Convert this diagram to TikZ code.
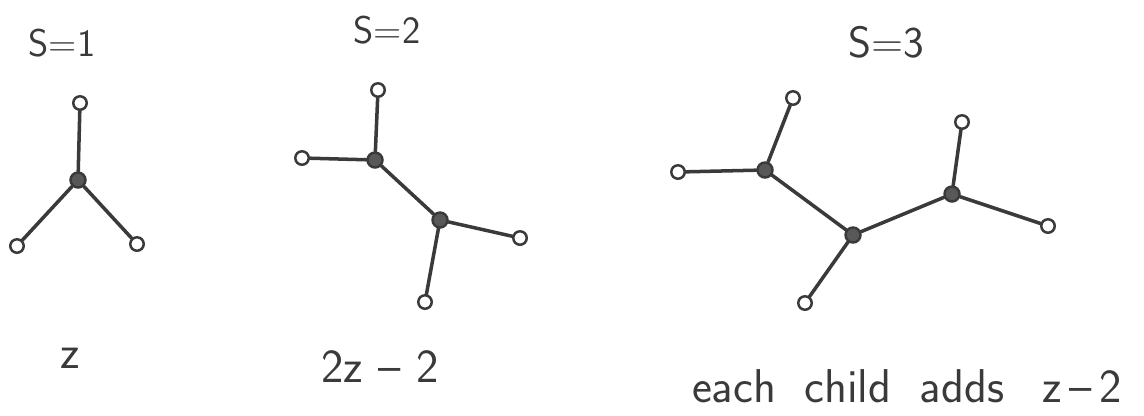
\documentclass[tikz,border=0pt]{standalone}
\usepackage{xcolor}
\usepackage{tikz}
\usetikzlibrary{positioning}

\definecolor{ink}{HTML}{3A3A3A}

\begin{document}
\begin{tikzpicture}[
            x=0.02cm, y=-0.02cm,
            leaf/.style ={circle, draw=ink, line width=1.4pt, fill=white,
                          minimum size=0.27cm, inner sep=0pt},
            inner/.style={circle, draw=ink, line width=1.4pt, fill=ink!85,
                          minimum size=0.3cm, inner sep=0pt},
            edge/.style ={line width=2pt, ink, line cap=round},
            lbl/.style  ={text=ink, font=\sffamily\fontsize{22}{26}\selectfont},
            sum/.style  ={text=ink, font=\sffamily\fontsize{27}{32}\selectfont}
        ]
            \useasboundingbox (0,0) rectangle (1144,416);

            % --- S = 1 ---
            \node[lbl]   (s1)   at (62,43)   {S=1};
            \node[inner] (a)    at (78,180)  {};
            \node[leaf]  (a1)   at (80,103)  {};
            \node[leaf]  (a2)   at (17,246)  {};
            \node[leaf]  (a3)   at (137,244) {};
            \node[sum]   (c1)   at (70,358)  {z};

            \draw[edge] (a) -- (a1);
            \draw[edge] (a) -- (a2);
            \draw[edge] (a) -- (a3);

            % --- S = 2 ---
            \node[lbl]   (s2)   at (387,30)  {S=2};
            \node[inner] (b)    at (375,160) {};
            \node[inner] (bb)   at (440,220) {};
            \node[leaf]  (b1)   at (378,90)  {};
            \node[leaf]  (b2)   at (302,158) {};
            \node[leaf]  (b3)   at (520,238) {};
            \node[leaf]  (b4)   at (425,302) {};
            \node[sum]   (c2)   at (380,367) {2z\,\,--\,\,2};

            \draw[edge] (b)  -- (b1);
            \draw[edge] (b)  -- (b2);
            \draw[edge] (b)  -- (bb);
            \draw[edge] (bb) -- (b3);
            \draw[edge] (bb) -- (b4);

            % --- S = 3 ---
            \node[lbl, font=\sffamily\fontsize{25}{30}\selectfont]
                         (s3)   at (886,42)  {S=3};
            \node[inner] (c)    at (765,170) {};
            \node[inner] (cc)   at (853,235) {};
            \node[inner] (ccc)  at (952,194) {};
            \node[leaf]  (c1a)  at (793,98)  {};
            \node[leaf]  (c1b)  at (678,172) {};
            \node[leaf]  (c2a)  at (805,303) {};
            \node[leaf]  (c3a)  at (962,122) {};
            \node[leaf]  (c3b)  at (1048,226) {};
            \node[sum]   (c3)   at (907,386)
                {each\hspace{0.6em}child\hspace{0.6em}adds\hspace{0.8em}z\,--\,2};

            \draw[edge] (c)   -- (c1a);
            \draw[edge] (c)   -- (c1b);
            \draw[edge] (c)   -- (cc);
            \draw[edge] (cc)  -- (c2a);
            \draw[edge] (cc)  -- (ccc);
            \draw[edge] (ccc) -- (c3a);
            \draw[edge] (ccc) -- (c3b);

        \end{tikzpicture}
\end{document}
